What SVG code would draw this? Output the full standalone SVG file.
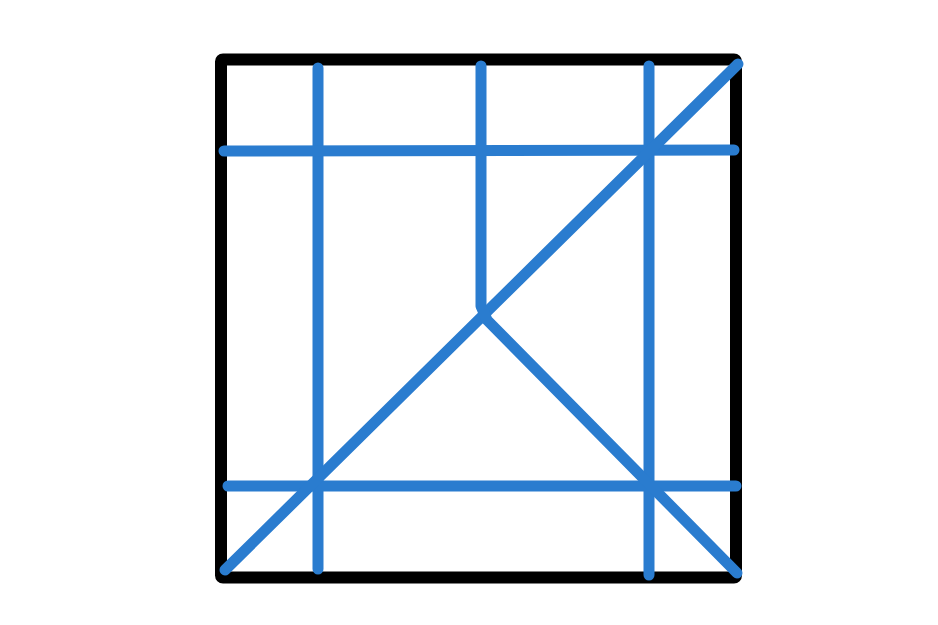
<svg xmlns="http://www.w3.org/2000/svg" width="938" height="625" viewBox="0 0 938 625">
<style>
.frame{fill:none;stroke:#000;stroke-width:12;stroke-linejoin:round}
.bl{fill:none;stroke:#2a7ccf;stroke-width:11;stroke-linecap:round;stroke-linejoin:round}
</style>
<rect width="938" height="625" fill="#fff"/>
<rect class="frame" x="221" y="59.5" width="515" height="518" rx="2"/>
<g id="lines">
<line class="bl" x1="318" y1="68" x2="318" y2="569"/>
<line class="bl" x1="649" y1="66" x2="649" y2="575"/>
<line class="bl" x1="224" y1="151" x2="734" y2="150"/>
<line class="bl" x1="228" y1="486" x2="736" y2="486"/>
<line class="bl" x1="738" y1="64" x2="225" y2="570"/>
<polyline class="bl" points="481,66 481,306 487,320 737,573"/>
</g>
</svg>
